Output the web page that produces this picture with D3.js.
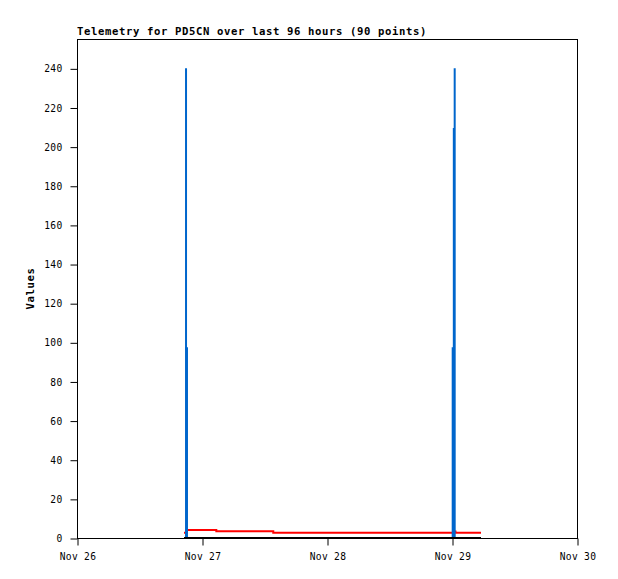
<!DOCTYPE html>
<html><head><meta charset="utf-8">
<script src="https://cdn.jsdelivr.net/npm/d3@7"></script>
<style>body{margin:0;background:#fff}</style>
</head><body><svg id="c" width="618" height="579"></svg>
<script>
// ---- data ----
const titleText = "Telemetry for PD5CN over last 96 hours (90 points)";
const yLabel = "Values";
const xDomain = ["2024-11-26T00:00", "2024-11-30T00:00"];
const yTicks = [0, 20, 40, 60, 80, 100, 120, 140, 160, 180, 200, 220, 240];
const redTimes = ["2024-11-26T20:33", "2024-11-26T21:07", "2024-11-27T02:45", "2024-11-27T13:41", "2024-11-29T00:15", "2024-11-29T00:40", "2024-11-29T05:34"];
const redValues = [2.7, 4.1, 3.5, 2.7, 3.3, 2.7, 2.7];
const blueTimes = ["2024-11-26T20:33", "2024-11-26T20:56", "2024-11-26T20:56", "2024-11-26T21:07", "2024-11-29T00:08", "2024-11-29T00:08", "2024-11-29T00:21", "2024-11-29T00:31", "2024-11-29T00:31", "2024-11-29T05:34"];
const blueValues = [0, 240, 97, 0, 0, 97, 209, 240, 0, 0];
const blackTimes = ["2024-11-26T20:33", "2024-11-29T05:34"];
const blackValues = [0, 0];

// ---- layout ----
const L = 77, R = 577, T = 39, B = 538;
const parse = d3.utcParse("%Y-%m-%dT%H:%M");
const svg = d3.select("#c");
const x = d3.scaleUtc().domain(xDomain.map(parse)).range([L, R]);
const y = d3.scaleLinear().domain([0, 255]).range([B, T]);

const mono = "'DejaVu Sans Mono', 'Liberation Mono', monospace";

// frame
svg.append("rect").attr("x", L + 0.5).attr("y", T + 0.5)
  .attr("width", R - L).attr("height", B - T)
  .attr("fill", "none").attr("stroke", "#000").attr("stroke-width", 1);

// series
function series(times, values, color, width, curve) {
  const pts = times.map((t, i) => [parse(t), values[i]]);
  const line = d3.line().x(d => x(d[0])).y(d => y(d[1])).curve(curve || d3.curveLinear);
  svg.append("path").datum(pts).attr("d", line)
    .attr("fill", "none").attr("stroke", color).attr("stroke-width", width)
    .attr("stroke-linejoin", "miter").attr("stroke-linecap", "butt");
}
series(redTimes, redValues, "#ff0000", 2, d3.curveStepAfter);
series(blueTimes, blueValues, "#0066cc", 2, d3.curveStepAfter);
series(blackTimes, blackValues, "#000000", 2);

// y axis
const yAxis = d3.axisLeft(y).tickValues(yTicks).tickSize(7).tickPadding(8).tickSizeOuter(0);
const gy = svg.append("g").attr("transform", `translate(${L + 0.5},0.5)`).call(yAxis);
gy.select(".domain").remove();
gy.selectAll("text").attr("font-family", mono).attr("font-size", "9.6px")
  .attr("letter-spacing", "0.3px").attr("fill", "#000");

// x axis
const xAxis = d3.axisBottom(x).ticks(d3.utcDay.every(1)).tickFormat(d3.utcFormat("%b %d"))
  .tickSize(7).tickPadding(8).tickSizeOuter(0);
const gx = svg.append("g").attr("transform", `translate(0.5,${B + 0.5})`).call(xAxis);
gx.select(".domain").remove();
gx.selectAll("text").attr("font-family", mono).attr("font-size", "9.6px")
  .attr("letter-spacing", "0.3px").attr("fill", "#000");

// title
svg.append("text").attr("x", L).attr("y", 35).text(titleText)
  .attr("font-family", mono).attr("font-weight", "bold").attr("font-size", "10.6px")
  .attr("letter-spacing", "0.62px").attr("fill", "#000");

// y label
svg.append("text").attr("transform", `translate(34,${(T + B) / 2}) rotate(-90)`)
  .attr("text-anchor", "middle").text(yLabel)
  .attr("font-family", mono).attr("font-weight", "bold").attr("font-size", "10.6px")
  .attr("letter-spacing", "0.6px").attr("fill", "#000");
</script>
</body></html>
